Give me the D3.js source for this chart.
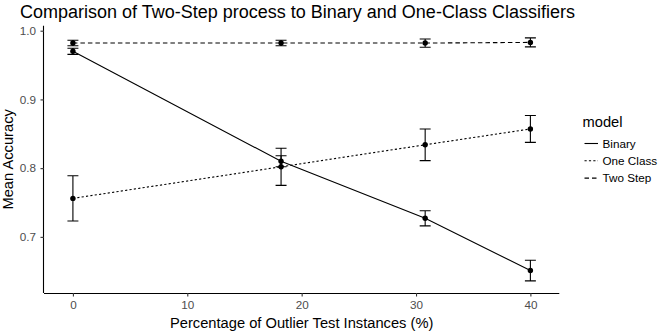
<!DOCTYPE html>
<html>
<head>
<meta charset="utf-8">
<script src="https://cdn.jsdelivr.net/npm/d3@7"></script>
<style>
  body { margin: 0; background: #fff; }
  text { font-family: "Liberation Sans", Arial, sans-serif; }
</style>
</head>
<body>
<svg id="chart" width="670" height="334"></svg>
<script>
// values
const outlierPct = [0, 18.2, 30.8, 40];
const models = ["Binary", "One Class", "Two Step"];
const binaryMean = [0.970, 0.810, 0.727, 0.651];
const binaryErr = [0.0045, 0.008, 0.011, 0.015];
const oneClassMean = [0.756, 0.802, 0.834, 0.857];
const oneClassErr = [0.033, 0.027, 0.023, 0.0195];
const twoStepMean = [0.982, 0.982, 0.982, 0.983];
const twoStepErr = [0.004, 0.004, 0.006, 0.0066];
const xTicks = [0, 10, 20, 30, 40];
const yTicks = [0.7, 0.8, 0.9, 1.0];

const dashFor = {"Binary": null, "One Class": "2.2,2.2", "Two Step": "4.5,3"};

const series = [
    {model: "Binary", mean: binaryMean, err: binaryErr},
    {model: "One Class", mean: oneClassMean, err: oneClassErr},
    {model: "Two Step", mean: twoStepMean, err: twoStepErr}
].map(s => ({
    model: s.model,
    values: outlierPct.map((x, i) => ({x: x, y: s.mean[i], lo: s.mean[i] - s.err[i], hi: s.mean[i] + s.err[i]}))
}));

const panel = {left: 44, right: 559.3, top: 25.7, bottom: 293};
const barHalf = 0.48;

// ggplot-like 5% expansion
const expand = ([a, b]) => { const p = (b - a) * 0.05; return [a - p, b + p]; };
const allVals = series.flatMap(s => s.values);
const xDom = expand([d3.min(outlierPct) - barHalf, d3.max(outlierPct) + barHalf]);
const yDom = expand([d3.min(allVals, d => d.lo), d3.max(allVals, d => d.hi)]);

const x = d3.scaleLinear().domain(xDom).range([panel.left, panel.right]);
const y = d3.scaleLinear().domain(yDom).range([panel.bottom, panel.top]);

const svg = d3.select("#chart");

// title
svg.append("text")
    .attr("x", 20).attr("y", 18)
    .attr("font-size", 18)
    .attr("fill", "#000")
    .text("Comparison of Two-Step process to Binary and One-Class Classifiers");

// axes
const xAxis = svg.append("g")
    .attr("transform", `translate(0,${panel.bottom})`)
    .call(d3.axisBottom(x).tickValues(xTicks).tickSize(3.5).tickPadding(4));
const yAxis = svg.append("g")
    .attr("transform", `translate(${panel.left},0)`)
    .call(d3.axisLeft(y).tickValues(yTicks).tickFormat(d3.format(".1f")).tickSize(3.5).tickPadding(4.5));

[xAxis, yAxis].forEach(g => {
    g.select(".domain").attr("stroke", "#000").attr("stroke-width", 1.1);
    g.selectAll(".tick line").attr("stroke", "#333").attr("stroke-width", 1.1);
    g.selectAll(".tick text").attr("fill", "#4d4d4d").attr("font-size", 11.7)
        .attr("font-family", "Liberation Sans, Arial, sans-serif");
});
// remove the outer tick stubs from the domain path
xAxis.select(".domain").attr("d", `M${panel.left},0.5H${panel.right}`);
yAxis.select(".domain").attr("d", `M-0.5,${panel.bottom}V${panel.top}`);

// axis titles
svg.append("text")
    .attr("x", (panel.left + panel.right) / 2).attr("y", 328)
    .attr("text-anchor", "middle").attr("font-size", 14.7)
    .text("Percentage of Outlier Test Instances (%)");
svg.append("text")
    .attr("transform", `translate(13,${(panel.top + panel.bottom) / 2}) rotate(-90)`)
    .attr("text-anchor", "middle").attr("font-size", 14.7)
    .text("Mean Accuracy");

const line = d3.line().x(d => x(d.x)).y(d => y(d.y));
const plot = svg.append("g");

// lines
plot.selectAll("path.series")
    .data(series)
    .join("path")
    .attr("class", "series")
    .attr("d", d => line(d.values))
    .attr("fill", "none")
    .attr("stroke", "#000")
    .attr("stroke-width", 1.1)
    .attr("stroke-dasharray", d => dashFor[d.model]);

// error bars
plot.selectAll("g.bars")
    .data(series)
    .join("g")
    .attr("class", "bars")
    .selectAll("path")
    .data(d => d.values)
    .join("path")
    .attr("d", d => {
        const x0 = x(d.x - barHalf), x1 = x(d.x + barHalf), xc = x(d.x);
        return `M${x0},${y(d.hi)}H${x1}M${xc},${y(d.hi)}V${y(d.lo)}M${x0},${y(d.lo)}H${x1}`;
    })
    .attr("fill", "none")
    .attr("stroke", "#000")
    .attr("stroke-width", 1.1);

// points
plot.selectAll("g.pts")
    .data(series)
    .join("g")
    .attr("class", "pts")
    .selectAll("circle")
    .data(d => d.values)
    .join("circle")
    .attr("cx", d => x(d.x))
    .attr("cy", d => y(d.y))
    .attr("r", 2.7)
    .attr("fill", "#000");

// legend
const legend = svg.append("g").attr("transform", "translate(582.5,0)");
legend.append("text")
    .attr("x", 0).attr("y", 127)
    .attr("font-size", 14.7)
    .text("model");

const rowY = i => 143.5 + i * 17.3;
const item = legend.selectAll("g.item")
    .data(models)
    .join("g")
    .attr("class", "item")
    .attr("transform", (d, i) => `translate(0,${rowY(i)})`);
item.append("line")
    .attr("x1", 2).attr("x2", 15.5)
    .attr("stroke", "#000").attr("stroke-width", 1.1)
    .attr("stroke-dasharray", d => dashFor[d]);
item.append("text")
    .attr("x", 20).attr("y", 4)
    .attr("font-size", 11.7)
    .text(d => d);
</script>
</body>
</html>
